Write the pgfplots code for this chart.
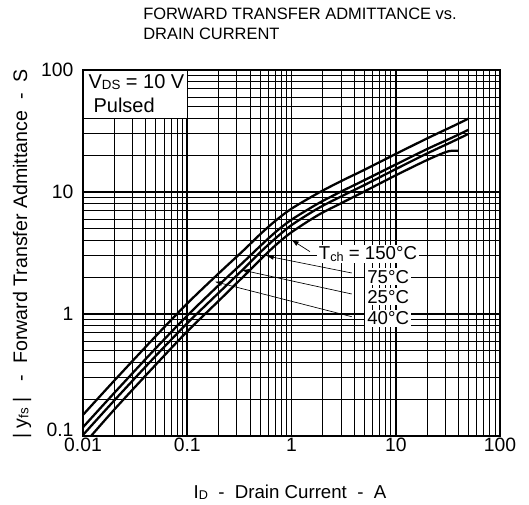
\documentclass[border=0pt]{standalone}
\usepackage{fontspec}
\setmainfont{Liberation Sans}
\usepackage{pgfplots}
\usepackage{pgfplotstable}
\pgfplotsset{compat=1.18}
\usetikzlibrary{arrows.meta}
\newcommand\sub[2]{\raisebox{-1pt}{\fontsize{#1}{#1}\selectfont #2}}

\pgfplotstableread{
I Y
0.01 0.149
0.02 0.285
0.05 0.66
0.1 1.22
0.2 2.15
0.35 3.35
0.5 4.5
0.7 5.8
1 7.3
1.8 9.8
3 12.3
5 15.2
10 20.5
20 27.5
35 34.5
50 40
}\curveA

\pgfplotstableread{
I Y
0.01 0.118
0.02 0.226
0.05 0.525
0.1 0.97
0.2 1.72
0.35 2.69
0.5 3.6
0.7 4.68
1 5.93
1.8 8.05
3 10.1
5 12.5
10 16.8
20 22.5
35 28
50 32.4
}\curveB

\pgfplotstableread{
I Y
0.01 0.102
0.02 0.196
0.05 0.455
0.1 0.84
0.2 1.49
0.35 2.36
0.5 3.2
0.7 4.16
1 5.35
1.8 7.35
3 9.2
5 11.4
10 15.4
20 20.7
35 25.9
50 30
}\curveC

\pgfplotstableread{
I Y
0.01 0.084
0.02 0.165
0.05 0.385
0.1 0.72
0.2 1.28
0.35 2.05
0.5 2.78
0.7 3.65
1 4.68
1.8 6.47
3 8.1
5 10.1
10 13.7
20 18.3
30 21.2
35 21.8
40 21.7
}\curveD

\begin{document}
\begin{tikzpicture}
\useasboundingbox (0,0) rectangle (396.75pt,378pt);
\begin{axis}[
  at={(62.25pt,51pt)}, anchor=south west,
  scale only axis, width=312.75pt, height=274.5pt,
  xmode=log, ymode=log,
  xmin=0.01, xmax=100, ymin=0.1, ymax=100,
  xtick={0.01,0.1,1,10,100}, xticklabels={0.01,0.1,1,10,100},
  ytick={0.1,1,10,100}, yticklabels={\raisebox{9pt}{0.1},1,10,100},
  grid=both,
  major grid style={black, line width=1.2pt},
  minor grid style={black, line width=0.75pt},
  major tick length=0pt, minor tick length=0pt,
  axis line style={line width=1.2pt},
  tick label style={font=\fontsize{14.5pt}{16pt}\selectfont},
  xticklabel style={inner sep=1.5pt},
  yticklabel style={inner sep=0pt, xshift=-7pt},
]
\addplot[black, line width=1.7pt, smooth] table[x=I,y=Y] {\curveA};
\addplot[black, line width=1.7pt, smooth] table[x=I,y=Y] {\curveB};
\addplot[black, line width=1.7pt, smooth] table[x=I,y=Y] {\curveC};
\addplot[black, line width=1.7pt, smooth] table[x=I,y=Y] {\curveD};

% condition box top-left
\fill[white] (axis cs:0.01,40) rectangle (axis cs:0.1,100);
\draw[line width=0.75pt] (axis cs:0.01,40) rectangle (axis cs:0.1,100);
\draw[line width=1.2pt] (rel axis cs:0,0) rectangle (rel axis cs:1,1);
\node[anchor=base west, inner sep=0pt, font=\fontsize{15pt}{18pt}\selectfont] at (rel axis cs:0.0127,0.949) {V\sub{10pt}{DS} = 10 V};
\node[anchor=base west, inner sep=0pt, font=\fontsize{15pt}{18pt}\selectfont] at (rel axis cs:0.0247,0.885) {Pulsed};

% annotation arrows
\draw[line width=0.5pt, -{Latex[length=5.25pt,width=3.75pt]}] (rel axis cs:0.5444,0.5036) -- (rel axis cs:0.5005,0.5355);
\draw[line width=0.5pt, -{Latex[length=5.25pt,width=3.75pt]}] (rel axis cs:0.6444,0.4454) -- (rel axis cs:0.4405,0.4918);
\draw[line width=0.5pt, -{Latex[length=5.25pt,width=3.75pt]}] (rel axis cs:0.6444,0.3880) -- (rel axis cs:0.3806,0.4536);
\draw[line width=0.5pt, -{Latex[length=5.25pt,width=3.75pt]}] (rel axis cs:0.6444,0.3260) -- (rel axis cs:0.3165,0.4216);

\node[anchor=base west, fill=white, inner sep=1.5pt, font=\fontsize{14pt}{16pt}\selectfont] at (rel axis cs:0.5604,0.4809) {T\sub{9.5pt}{ch} = 150\textdegree C};
\node[anchor=base west, fill=white, inner sep=1.5pt, font=\fontsize{14pt}{16pt}\selectfont] at (rel axis cs:0.6763,0.4172) {75\textdegree C};
\node[anchor=base west, fill=white, inner sep=1.5pt, font=\fontsize{14pt}{16pt}\selectfont] at (rel axis cs:0.6763,0.3626) {25\textdegree C};
\node[anchor=base west, fill=white, inner sep=1.5pt, font=\fontsize{14pt}{16pt}\selectfont] at (rel axis cs:0.6763,0.3033) {40\textdegree C};
\end{axis}

% title
\node[anchor=base west, inner sep=0pt, font=\fontsize{12.35pt}{15pt}\selectfont] at (107.25pt,363pt) {FORWARD TRANSFER ADMITTANCE vs.};
\node[anchor=base west, inner sep=0pt, font=\fontsize{12.35pt}{15pt}\selectfont] at (107.25pt,348pt) {DRAIN CURRENT};

% axis labels
\node[anchor=base, inner sep=0pt, font=\fontsize{14pt}{16pt}\selectfont] at (217.5pt,4.5pt) {I\sub{9.5pt}{D}\ \ -\ \ Drain Current\ \ -\ \ A};
\node[anchor=base, rotate=90, inner sep=0pt, font=\fontsize{14.7pt}{16pt}\selectfont] at (20.25pt,187.5pt) {|\ y\sub{10pt}{fs}\ |\ \ \ -\ \ Forward Transfer Admittance\ \ -\ \ S};
\end{tikzpicture}
\end{document}
